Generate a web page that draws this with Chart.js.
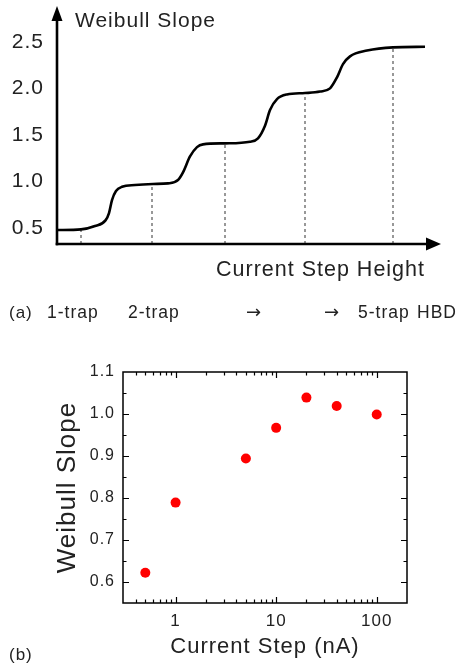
<!DOCTYPE html>
<html><head><meta charset="utf-8">
<script src="https://cdn.jsdelivr.net/npm/chart.js@4/dist/chart.umd.min.js"></script>
<style>
html,body{margin:0;padding:0;background:#fff;}
#wrap{position:relative;width:460px;height:666px;overflow:hidden;background:#fff;}
#c1{position:absolute;left:0;top:0;}
#c2{position:absolute;left:0;top:340px;}
</style></head><body>
<div id="wrap"><canvas id="c1" width="460" height="340"></canvas><canvas id="c2" width="460" height="326"></canvas></div>
<script>
// ---------- Panel (a): schematic staircase ----------
const stepHeight     = [0, 24, 38, 48.5, 52, 55, 59, 65, 78, 96, 111, 121, 126, 133, 140, 146, 168, 193, 201, 208, 213, 220, 230, 248, 263, 273, 280, 286, 293, 310, 336, 368];
const schematicSlope = [0.482, 0.489, 0.525, 0.585, 0.664, 0.803, 0.90, 0.945, 0.964, 0.975, 0.982, 1.018, 1.10, 1.27, 1.37, 1.40, 1.411, 1.429, 1.465, 1.60, 1.768, 1.885, 1.935, 1.95, 1.966, 2.0, 2.118, 2.26, 2.343, 2.405, 2.44, 2.446];
const markerHeight   = [24, 95, 168, 248, 336];
const markerSlope    = [0.489, 0.975, 1.411, 1.95, 2.44];
const slopeTicksA    = [0.5, 1.0, 1.5, 2.0, 2.5];
const slopeLabelsA   = ['0.5', '1.0', '1.5', '2.0', '2.5'];
const rowLabels      = ['1-trap', '2-trap', '\u2192', '\u2192', '5-trap', 'HBD'];

// ---------- Panel (b): measured Weibull slope ----------
const currentStep  = [0.5, 1, 5, 10, 20, 40, 100];
const weibullSlope = [0.622, 0.789, 0.894, 0.967, 1.039, 1.019, 0.999];
const xMajorTicks  = [1, 10, 100];
const xTickLabels  = ['1', '10', '100'];
const yTickValues  = [0.6, 0.7, 0.8, 0.9, 1.0, 1.1];
const yTickLabels  = ['0.6', '0.7', '0.8', '0.9', '1.0', '1.1'];

const FONT = "'Liberation Sans', Arial, Helvetica, sans-serif";
const TXT = '#222';

const spacing = { id: 'spacing', beforeDraw(chart) { try { chart.ctx.letterSpacing = '1px'; } catch (e) {} } };
const noPad = s => { s.paddingTop = 0; s.paddingBottom = 0; s.paddingLeft = 0; s.paddingRight = 0; };

// Panel (a)
const yMinA = 0.332, yMaxA = 2.883;
const markerSets = markerHeight.map((h, i) => ({
  data: [{ x: h, y: yMinA }, { x: h, y: markerSlope[i] }],
  borderColor: '#555', borderWidth: 1.2, borderDash: [3, 3], pointRadius: 0, fill: false, order: 2
}));

const axesA = {
  id: 'axesA',
  afterDraw(chart) {
    const ctx = chart.ctx, ca = chart.chartArea;
    const x0 = ca.left, y0 = ca.bottom;
    ctx.save();
    ctx.strokeStyle = '#000'; ctx.fillStyle = '#000'; ctx.lineWidth = 2.6;
    ctx.beginPath(); ctx.moveTo(x0, y0 + 1.3); ctx.lineTo(x0, ca.top + 12); ctx.stroke();
    ctx.beginPath(); ctx.moveTo(x0, ca.top); ctx.lineTo(x0 - 5.5, ca.top + 15); ctx.lineTo(x0 + 5.5, ca.top + 15); ctx.closePath(); ctx.fill();
    ctx.beginPath(); ctx.moveTo(x0 - 1.3, y0); ctx.lineTo(ca.right - 12, y0); ctx.stroke();
    ctx.beginPath(); ctx.moveTo(ca.right, y0); ctx.lineTo(ca.right - 15, y0 - 6.5); ctx.lineTo(ca.right - 15, y0 + 6.5); ctx.closePath(); ctx.fill();
    ctx.fillStyle = TXT;
    ctx.textBaseline = 'middle';
    ctx.font = '21px ' + FONT;
    ctx.textAlign = 'left';
    ctx.fillText('Weibull Slope', 75, 21);
    ctx.textAlign = 'right';
    ctx.font = '21.5px ' + FONT;
    ctx.fillText('Current Step Height', 425, 270);
    ctx.textAlign = 'left';
    ctx.font = '17px ' + FONT;
    ctx.fillText('(a)', 9, 313);
    const lx = [47, 128, 246, 324, 358, 417];
    rowLabels.forEach((t, i) => {
      ctx.font = (t === '\u2192' ? "18px 'DejaVu Sans', sans-serif" : '17.5px ' + FONT);
      ctx.fillText(t, lx[i], 313);
    });
    ctx.restore();
  }
};

new Chart(document.getElementById('c1'), {
  type: 'line',
  data: {
    datasets: [{
      data: stepHeight.map((x, i) => ({ x, y: schematicSlope[i] })),
      borderColor: '#000', borderWidth: 2.6, pointRadius: 0, fill: false,
      cubicInterpolationMode: 'monotone', order: 1
    }, ...markerSets]
  },
  options: {
    responsive: false, animation: false, devicePixelRatio: 1,
    layout: { autoPadding: false, padding: { left: 0, right: 19, top: 6, bottom: 0 } },
    plugins: { legend: { display: false }, tooltip: { enabled: false } },
    scales: {
      x: {
        type: 'linear', min: 0, max: 384,
        grid: { display: false, drawTicks: false }, border: { display: false },
        ticks: { display: false },
        afterFit(s) { s.height = 96; noPad(s); }
      },
      y: {
        type: 'linear', min: yMinA, max: yMaxA,
        grid: { display: false, drawTicks: false }, border: { display: false },
        afterBuildTicks(s) { s.ticks = slopeTicksA.map(v => ({ value: v })); },
        ticks: {
          padding: 13, color: TXT, font: { family: FONT, size: 21 },
          callback(v) { const i = slopeTicksA.findIndex(t => Math.abs(t - v) < 1e-6); return i >= 0 ? slopeLabelsA[i] : ''; }
        },
        afterFit(s) { s.width = 57; noPad(s); }
      }
    }
  },
  plugins: [spacing, axesA]
});

// Panel (b)
const xAllTicks = [];
[0.1, 1, 10, 100].forEach(d => { for (let k = 1; k <= 9; k++) { const v = +(d * k).toPrecision(3); if (v >= 0.3 && v <= 200) xAllTicks.push(v); } });

const frameB = {
  id: 'frameB',
  afterDraw(chart) {
    const ctx = chart.ctx, ca = chart.chartArea, xs = chart.scales.x, ys = chart.scales.y;
    ctx.save();
    ctx.strokeStyle = '#000'; ctx.lineWidth = 1.5;
    ctx.strokeRect(ca.left, ca.top, ca.width, ca.height);
    ctx.lineWidth = 1.2;
    ctx.beginPath();
    xs.ticks.forEach(t => {
      const px = Math.round(xs.getPixelForValue(t.value)) + 0.5;
      if (px < ca.left + 2 || px > ca.right - 2) return;
      const L = xMajorTicks.includes(t.value) ? 6 : 3.5;
      ctx.moveTo(px, ca.bottom); ctx.lineTo(px, ca.bottom - L);
      ctx.moveTo(px, ca.top); ctx.lineTo(px, ca.top + L);
    });
    ys.ticks.forEach(t => {
      const py = Math.round(ys.getPixelForValue(t.value)) + 0.5;
      if (py < ca.top + 2 || py > ca.bottom - 2) return;
      const major = yTickValues.some(v => Math.abs(v - t.value) < 1e-6);
      const L = major ? 6 : 3.5;
      ctx.moveTo(ca.left, py); ctx.lineTo(ca.left + L, py);
      ctx.moveTo(ca.right, py); ctx.lineTo(ca.right - L, py);
    });
    ctx.stroke();
    ctx.fillStyle = TXT; ctx.textBaseline = 'middle'; ctx.textAlign = 'left';
    ctx.font = '17px ' + FONT;
    ctx.fillText('(b)', 9, 315);
    ctx.restore();
  }
};

new Chart(document.getElementById('c2'), {
  type: 'scatter',
  data: {
    datasets: [{
      data: currentStep.map((x, i) => ({ x, y: weibullSlope[i] })),
      backgroundColor: '#ff0000', borderWidth: 0, pointRadius: 5, pointHoverRadius: 5
    }]
  },
  options: {
    responsive: false, animation: false, devicePixelRatio: 1,
    layout: { autoPadding: false, padding: { left: 0, right: 53, top: 32, bottom: 0 } },
    plugins: { legend: { display: false }, tooltip: { enabled: false } },
    scales: {
      x: {
        type: 'logarithmic', min: 0.3, max: 200,
        grid: { display: false, drawTicks: false }, border: { display: false },
        afterBuildTicks(s) { s.ticks = xAllTicks.map(v => ({ value: v })); },
        ticks: {
          autoSkip: false, maxRotation: 0, padding: 8, color: TXT, font: { family: FONT, size: 17 },
          callback(v) { const i = xMajorTicks.findIndex(t => Math.abs(t - v) < 1e-9); return i >= 0 ? xTickLabels[i] : ''; }
        },
        title: { display: true, text: 'Current Step (nA)', color: TXT, font: { family: FONT, size: 22 }, padding: { top: 0, bottom: 6 } },
        afterFit(s) { s.height = 63; noPad(s); }
      },
      y: {
        type: 'linear', min: 0.55, max: 1.1,
        grid: { display: false, drawTicks: false }, border: { display: false },
        ticks: {
          stepSize: 0.05, autoSkip: false, padding: 8, color: TXT, font: { family: FONT, size: 16 },
          callback(v) { const i = yTickValues.findIndex(t => Math.abs(t - v) < 1e-6); return i >= 0 ? yTickLabels[i] : ''; }
        },
        title: { display: true, text: 'Weibull Slope', color: TXT, font: { family: FONT, size: 26 }, padding: { top: 52, bottom: 0 } },
        afterFit(s) { s.width = 123; noPad(s); }
      }
    }
  },
  plugins: [spacing, frameB]
});
</script>
</body></html>
